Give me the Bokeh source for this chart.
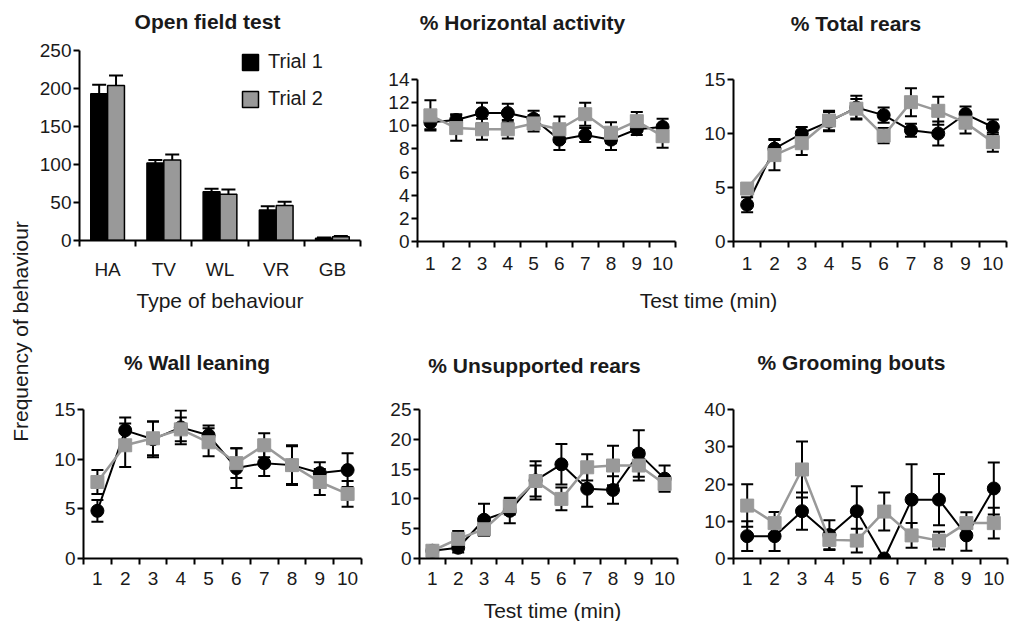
import numpy as np
from bokeh.plotting import figure
from bokeh.models import (Range1d, FixedTicker, ColumnDataSource, Whisker, TeeHead,
                          Legend, LegendItem, Label, CustomJSTickFormatter)
from bokeh.layouts import row, column
from bokeh.embed import file_html
from bokeh.resources import INLINE

FONT = "Liberation Sans"
GRAY = "#999999"
TXT = "#1a1a1a"

# ---------------- data ----------------
behaviours = ["HA", "TV", "WL", "VR", "GB"]
trial1_freq = [193, 102, 64, 40, 3]
trial1_freq_sem = [12, 4, 4, 5, 1]
trial2_freq = [204, 106, 61, 46, 5]
trial2_freq_sem = [13, 7, 6, 5, 1]

minutes = [1, 2, 3, 4, 5, 6, 7, 8, 9, 10]

ha_t1 = [10.3, 10.5, 11.1, 11.1, 10.6, 8.8, 9.2, 8.8, 9.7, 9.9]
ha_t1_sem = [0.6, 0.5, 0.9, 0.8, 0.7, 0.9, 0.6, 0.9, 0.5, 0.7]
ha_t2 = [10.9, 9.8, 9.7, 9.7, 10.2, 9.7, 11.0, 9.4, 10.4, 9.1]
ha_t2_sem = [1.3, 1.1, 0.9, 0.8, 0.7, 1.1, 1.0, 0.9, 0.8, 1.0]

tr_t1 = [3.4, 8.6, 10.0, 11.1, 12.4, 11.7, 10.3, 10.0, 11.8, 10.6]
tr_t1_sem = [0.7, 0.9, 0.6, 0.9, 1.1, 0.7, 0.6, 1.1, 0.7, 0.7]
tr_t2 = [4.9, 8.0, 9.1, 11.2, 12.3, 9.8, 12.9, 12.1, 11.0, 9.2]
tr_t2_sem = [0.5, 1.4, 1.1, 0.9, 0.9, 0.7, 1.3, 1.3, 1.0, 0.9]

wl_t1 = [4.8, 12.9, 12.0, 13.2, 12.4, 9.1, 9.6, 9.4, 8.6, 8.9]
wl_t1_sem = [1.1, 1.3, 1.8, 1.7, 1.0, 2.0, 1.3, 1.9, 1.1, 1.7]
wl_t2 = [7.7, 11.4, 12.1, 13.0, 11.7, 9.6, 11.4, 9.4, 7.7, 6.5]
wl_t2_sem = [1.2, 2.2, 1.7, 1.2, 1.4, 1.5, 1.2, 2.0, 1.3, 1.3]

ur_t1 = [1.3, 1.8, 6.5, 8.0, 13.1, 15.8, 11.7, 11.5, 17.6, 13.4]
ur_t1_sem = [0.3, 0.8, 2.7, 2.1, 3.2, 3.4, 3.0, 2.3, 3.9, 2.2]
ur_t2 = [1.3, 3.3, 4.9, 8.8, 13.0, 10.0, 15.3, 15.6, 15.6, 12.5]
ur_t2_sem = [0.3, 1.3, 1.0, 1.4, 2.6, 1.9, 2.2, 3.3, 2.5, 1.0]

gb_t1 = [6.0, 6.0, 12.7, 6.3, 12.7, 0.0, 15.8, 15.8, 6.2, 18.8]
gb_t1_sem = [4.0, 4.0, 5.0, 4.0, 6.7, 0.0, 9.5, 6.9, 4.1, 7.0]
gb_t2 = [14.2, 9.5, 23.9, 5.0, 4.8, 12.6, 6.2, 4.8, 9.5, 9.5]
gb_t2_sem = [5.7, 3.0, 7.5, 2.5, 3.2, 5.1, 3.3, 2.4, 2.9, 4.1]

titles_top = ["Open field test", "% Horizontal activity", "% Total rears"]
titles_bottom = ["% Wall leaning", "% Unsupported rears", "% Grooming bouts"]

# ---------------- helpers ----------------

def add_text(p, text, x, y, size="21px", bold=False, angle=0.0):
    p.add_layout(Label(x=x, y=y, x_units="screen", y_units="screen", text=text,
                       angle=angle, text_align="center", text_baseline="middle",
                       text_font=FONT, text_font_size=size,
                       text_font_style="bold" if bold else "normal", text_color=TXT))


def base_fig(width, height, xr, yr, bl, br, bt, bb):
    p = figure(width=width, height=height, x_range=xr, y_range=yr,
               toolbar_location=None, output_backend="svg",
               min_border_left=bl, min_border_right=br,
               min_border_top=bt, min_border_bottom=bb, title=None)
    p.grid.visible = False
    p.outline_line_color = None
    p.background_fill_color = "white"
    p.border_fill_color = "white"
    for ax in (p.xaxis[0], p.yaxis[0]):
        ax.axis_line_width = 2
        ax.axis_line_color = "black"
        ax.major_label_text_font = FONT
        ax.major_label_text_font_size = "19px"
        ax.major_label_text_color = TXT
        ax.major_tick_line_width = 2
        ax.minor_tick_line_width = 2
        ax.major_tick_line_color = "black"
        ax.minor_tick_line_color = "black"
        ax.axis_label_text_font = FONT
        ax.axis_label_text_font_size = "21px"
        ax.axis_label_text_font_style = "normal"
        ax.axis_label_text_color = TXT
    p.yaxis.major_tick_out = 6
    p.yaxis.major_tick_in = 0
    p.yaxis.minor_tick_out = 0
    p.yaxis.minor_tick_in = 0
    p.yaxis.major_label_standoff = 2
    p.xaxis.major_tick_out = 0
    p.xaxis.major_tick_in = 0
    p.xaxis.minor_tick_out = 6
    p.xaxis.minor_tick_in = 0
    return p


def line_panel(y_max, y_step, t1, t1e, t2, t2e, width, height, bl, br, bt, bb, label_standoff):
    p = base_fig(width, height, Range1d(minutes[0] - 0.5, minutes[-1] + 0.5),
                 Range1d(0, y_max), bl, br, bt, bb)
    p.yaxis.ticker = FixedTicker(ticks=list(np.arange(0, y_max + 0.01, y_step)), minor_ticks=[])
    p.xaxis.ticker = FixedTicker(ticks=minutes,
                                 minor_ticks=[m - 0.5 for m in minutes] + [minutes[-1] + 0.5])
    p.xaxis.major_label_standoff = label_standoff
    for vals, errs in ((t1, t1e), (t2, t2e)):
        src = ColumnDataSource(dict(x=minutes,
                                    upper=[v + e for v, e in zip(vals, errs)],
                                    lower=[v - e for v, e in zip(vals, errs)]))
        p.add_layout(Whisker(base="x", upper="upper", lower="lower", source=src,
                             line_width=2, line_color="black", level="underlay",
                             upper_head=TeeHead(size=12, line_width=2, line_color="black"),
                             lower_head=TeeHead(size=12, line_width=2, line_color="black")))
    p.line(minutes, t1, line_color="black", line_width=2)
    p.scatter(minutes, t1, marker="circle", size=13, fill_color="black", line_color="black")
    p.line(minutes, t2, line_color=GRAY, line_width=2.5)
    p.scatter(minutes, t2, marker="square", size=13, fill_color=GRAY, line_color=GRAY)
    return p


def strip(width, height):
    s = figure(width=width, height=height, x_range=Range1d(0, 1), y_range=Range1d(0, 1),
               toolbar_location=None, output_backend="svg", min_border=0,
               x_axis_type=None, y_axis_type=None, title=None)
    s.grid.visible = False
    s.outline_line_color = None
    s.border_fill_color = "white"
    return s

# ---------------- panel 1 : bars ----------------
n = len(behaviours)
idx = np.arange(n)
p1 = base_fig(339, 278, Range1d(0, n), Range1d(0, 250), 42, 15, 10, 78)
p1.yaxis.ticker = FixedTicker(ticks=[0, 50, 100, 150, 200, 250], minor_ticks=[])
p1.xaxis.ticker = FixedTicker(ticks=list(idx + 0.5), minor_ticks=list(range(n + 1)))
p1.xaxis.formatter = CustomJSTickFormatter(args=dict(labels=behaviours),
                                           code="const i = Math.round(tick - 0.5); return labels[i] || '';")
p1.xaxis.major_label_standoff = 12
p1.xaxis.axis_label = "Type of behaviour"
p1.xaxis.axis_label_standoff = 6

bw = 0.3
s_t1 = ColumnDataSource(dict(x=idx + 0.5 - bw / 2, top=trial1_freq,
                             up=[v + e for v, e in zip(trial1_freq, trial1_freq_sem)]))
s_t2 = ColumnDataSource(dict(x=idx + 0.5 + bw / 2, top=trial2_freq,
                             up=[v + e for v, e in zip(trial2_freq, trial2_freq_sem)]))
for s in (s_t1, s_t2):
    p1.add_layout(Whisker(base="x", upper="up", lower="top", source=s,
                          line_width=2, line_color="black", level="underlay",
                          upper_head=TeeHead(size=14, line_width=2, line_color="black"),
                          lower_head=None))
r1 = p1.vbar(x="x", top="top", width=bw, bottom=0, source=s_t1,
             fill_color="black", line_color="black", line_width=1.5)
r2 = p1.vbar(x="x", top="top", width=bw, bottom=0, source=s_t2,
             fill_color=GRAY, line_color="black", line_width=1.5)
legend = Legend(items=[LegendItem(label="Trial 1", renderers=[r1]),
                       LegendItem(label="Trial 2", renderers=[r2])],
                location=(161, 130), glyph_width=20, glyph_height=20, label_height=20,
                spacing=14, padding=0, margin=0, border_line_color=None,
                background_fill_alpha=0, label_text_font=FONT,
                label_text_font_size="20px", label_text_color=TXT, label_standoff=8)
p1.add_layout(legend)

# ---------------- line panels ----------------
p2 = line_panel(14, 2, ha_t1, ha_t1_sem, ha_t2, ha_t2_sem, 315, 245, 42, 15, 33, 44, 9)
p3 = line_panel(15, 5, tr_t1, tr_t1_sem, tr_t2, tr_t2_sem, 320, 245, 43, 4, 39, 44, 9)
p4 = line_panel(15, 5, wl_t1, wl_t1_sem, wl_t2, wl_t2_sem, 340, 216, 47, 15, 29, 38, 7)
p5 = line_panel(25, 5, ur_t1, ur_t1_sem, ur_t2, ur_t2_sem, 314, 216, 43, 13, 26, 38, 7)
p6 = line_panel(40, 10, gb_t1, gb_t1_sem, gb_t2, gb_t2_sem, 320, 216, 43, 3, 29, 38, 7)

# ---------------- text strips ----------------
s_left = strip(36, 621)
add_text(s_left, "Frequency of behaviour", 20, 290, angle=np.pi / 2)

s_title_top = strip(974, 40)
for t, (x, y) in zip(titles_top, [(171, 19), (486, 18), (819.5, 17)]):
    add_text(s_title_top, t, x, y, bold=True)

s_mid = strip(635, 33)
add_text(s_mid, "Test time (min)", 333, 18)

s_title_bot = strip(974, 62)
for t, (x, y) in zip(titles_bottom, [(160.5, 18), (498, 15), (815, 18)]):
    add_text(s_title_bot, t, x, y, bold=True)

s_bot = strip(974, 25)
add_text(s_bot, "Test time (min)", 516, 11)

top = row(p1, column(row(p2, p3), s_mid))
bottom = row(p4, p5, p6)
layout = row(s_left, column(s_title_top, top, s_title_bot, bottom, s_bot))

open("out.html", "w").write(file_html(layout, INLINE, title="Open field test"))
